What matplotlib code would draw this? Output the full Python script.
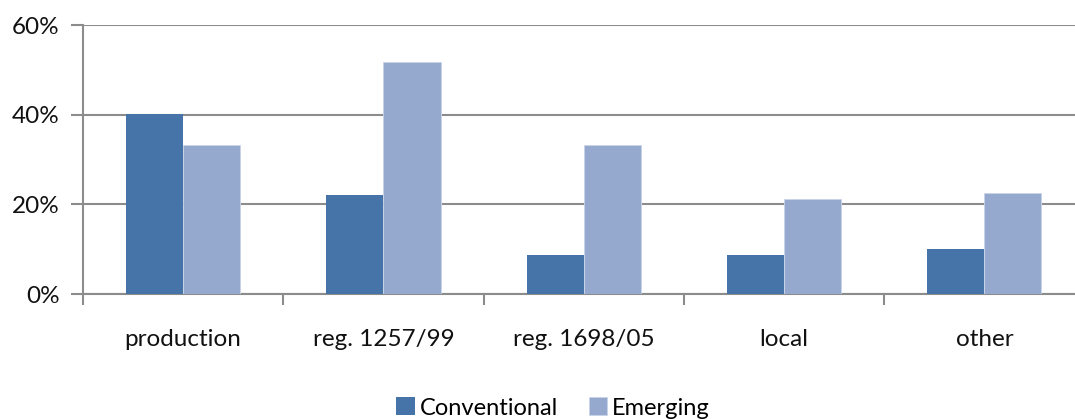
import matplotlib
matplotlib.use("Agg")
import matplotlib.pyplot as plt
import numpy as np
from matplotlib.ticker import FuncFormatter

categories = ["production", "reg. 1257/99", "reg. 1698/05", "local", "other"]
conventional = [40.1, 22.1, 8.6, 8.6, 10.0]
emerging = [33.3, 51.7, 33.3, 21.2, 22.5]
y_ticks = [0, 20, 40, 60]

plt.rcParams["font.family"] = ["Lato", "DejaVu Sans"]

W, H = 1075, 419
fig = plt.figure(figsize=(W / 100, H / 100), dpi=100)
ax = fig.add_axes([83 / W, 125 / H, 1001.5 / W, 268.7 / H])

grid_col = "#8c8c8c"
c_conv = "#4674a8"
c_emer = "#95a9cf"

x = np.arange(len(categories))
bw = 0.285
ax.bar(x - bw / 2, conventional, bw, color=c_conv, label="Conventional", zorder=3)
ax.bar(x + bw / 2, emerging, bw, color=c_emer, label="Emerging", zorder=3,
       edgecolor="#c9d4e8", linewidth=0.6)

ax.set_xlim(-0.5, len(categories) - 0.5)
ax.set_ylim(0, 60)
ax.set_yticks(y_ticks)
ax.yaxis.set_major_formatter(FuncFormatter(lambda v, p: f"{v:.0f}%"))
ax.yaxis.grid(True, color=grid_col, linewidth=1.5, zorder=0)

ax.set_xticks(x)
ax.set_xticklabels(categories, fontsize=17.5, color="#111111")
ax.set_xticks(np.arange(len(categories) + 1) - 0.5, minor=True)
ax.tick_params(axis="x", which="major", length=0, pad=25)
ax.tick_params(axis="x", which="minor", length=8, width=1.5, color=grid_col, direction="out")
ax.tick_params(axis="y", length=9, width=1.5, color=grid_col, labelsize=17.5,
               labelcolor="#111111", pad=8)

for s in ["top", "right"]:
    ax.spines[s].set_visible(False)
for s in ["left", "bottom"]:
    ax.spines[s].set_color(grid_col)
    ax.spines[s].set_linewidth(1.5)

fig.legend(loc="center", bbox_to_anchor=(553 / W, 1 - 408 / H), ncol=2, frameon=False,
           fontsize=17, handlelength=0.8, handleheight=0.8, handletextpad=0.2,
           columnspacing=1.3)

fig.savefig("out.png", dpi=100)
